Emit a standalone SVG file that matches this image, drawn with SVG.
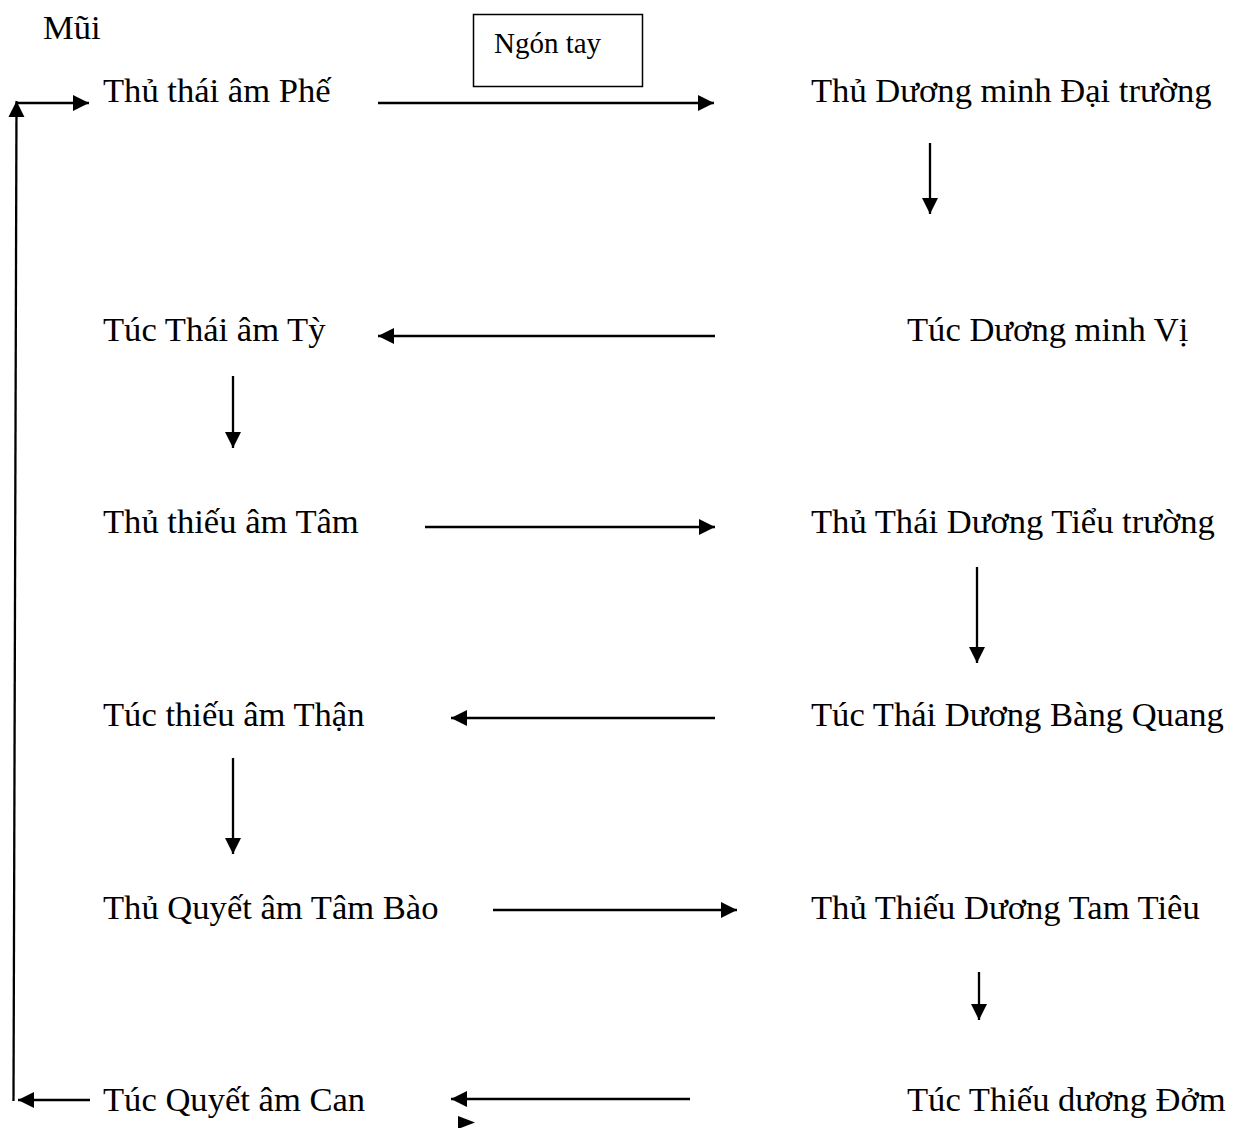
<svg xmlns="http://www.w3.org/2000/svg" width="1238" height="1128" viewBox="0 0 1238 1128">
<style>
text{font-family:"Liberation Serif","Times New Roman",serif;fill:#000}
.n{font-size:34.6px}
.s{font-size:29px}
.c line{stroke:#000;stroke-width:2.3;fill:none}
</style>
<defs>
<marker id="ah" markerUnits="userSpaceOnUse" markerWidth="18" markerHeight="18" refX="16" refY="8" orient="auto" overflow="visible">
<path d="M0,0 L16,8 L0,16 z" fill="#000"/>
</marker>
</defs>
<rect width="1238" height="1128" fill="#fff"/>
<g id="mui"><text class="n" x="43" y="39">Mũi</text></g>
<g id="ngon-tay"><rect x="473.5" y="14.5" width="169" height="72" fill="none" stroke="#000" stroke-width="1.5"/><text class="s" x="494" y="53">Ngón tay</text></g>
<g id="phe"><text class="n" x="103" y="102">Thủ thái âm Phế</text></g>
<g id="dai-truong"><text class="n" x="811" y="102">Thủ Dương minh Đại trường</text></g>
<g id="vi"><text class="n" x="907" y="341">Túc Dương minh Vị</text></g>
<g id="ty"><text class="n" x="103" y="341">Túc Thái âm Tỳ</text></g>
<g id="tam"><text class="n" x="103" y="533">Thủ thiếu âm Tâm</text></g>
<g id="tieu-truong"><text class="n" x="811" y="533">Thủ Thái Dương Tiểu trường</text></g>
<g id="bang-quang"><text class="n" x="811" y="726">Túc Thái Dương Bàng Quang</text></g>
<g id="than"><text class="n" x="103" y="726">Túc thiếu âm Thận</text></g>
<g id="tam-bao"><text class="n" x="103" y="919">Thủ Quyết âm Tâm Bào</text></g>
<g id="tam-tieu"><text class="n" x="811" y="919">Thủ Thiếu Dương Tam Tiêu</text></g>
<g id="dom"><text class="n" x="907" y="1111">Túc Thiếu dương Đởm</text></g>
<g id="can"><text class="n" x="103" y="1111">Túc Quyết âm Can</text></g>
<g id="connectors" class="c">
<line x1="378" y1="103" x2="714" y2="103" marker-end="url(#ah)"/>
<line x1="930" y1="143" x2="930" y2="214" marker-end="url(#ah)"/>
<line x1="715" y1="336" x2="378" y2="336" marker-end="url(#ah)"/>
<line x1="233" y1="376" x2="233" y2="448" marker-end="url(#ah)"/>
<line x1="425" y1="527" x2="715" y2="527" marker-end="url(#ah)"/>
<line x1="977" y1="567" x2="977" y2="663" marker-end="url(#ah)"/>
<line x1="715" y1="718" x2="451" y2="718" marker-end="url(#ah)"/>
<line x1="233" y1="758" x2="233" y2="854" marker-end="url(#ah)"/>
<line x1="493" y1="910" x2="737" y2="910" marker-end="url(#ah)"/>
<line x1="979" y1="972" x2="979" y2="1020" marker-end="url(#ah)"/>
<line x1="690" y1="1099" x2="451" y2="1099" marker-end="url(#ah)"/>
<path d="M458,1116 L475,1122.5 L458,1129 z" fill="#000"/>
<line x1="90" y1="1100" x2="18" y2="1100" marker-end="url(#ah)"/>
<line x1="13.5" y1="1101" x2="16.5" y2="101" marker-end="url(#ah)"/>
<line x1="17" y1="103" x2="89" y2="103" marker-end="url(#ah)"/>
</g>
</svg>
